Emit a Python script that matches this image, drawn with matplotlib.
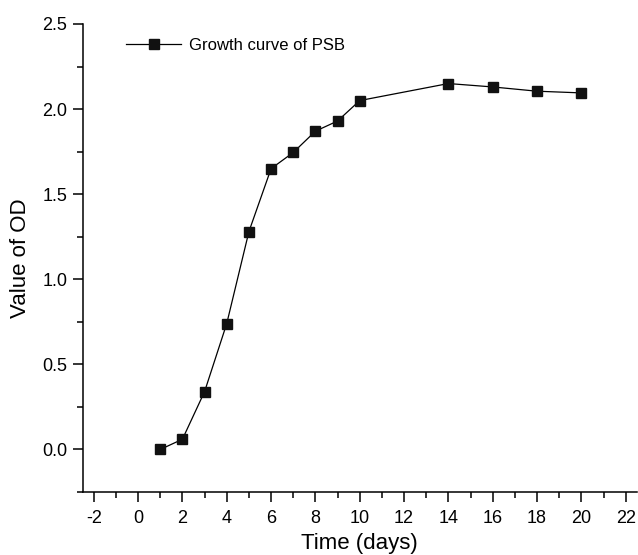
import matplotlib
matplotlib.use("Agg")
import matplotlib.pyplot as plt
from matplotlib.ticker import MultipleLocator, FuncFormatter

days = [1, 2, 3, 4, 5, 6, 7, 8, 9, 10, 14, 16, 18, 20]
od = [0.0, 0.06, 0.34, 0.74, 1.28, 1.65, 1.745, 1.87, 1.93, 2.05, 2.15, 2.13, 2.105, 2.095]

plt.rcParams['font.family'] = ['Liberation Sans', 'DejaVu Sans']

fig = plt.figure(figsize=(6.38, 5.55), dpi=100)
ax = fig.add_axes([0.1296, 0.1135, 0.8685, 0.8433])
ax.plot(days, od, color='black', lw=0.9, marker='s', markersize=7.5,
        markerfacecolor='#111111', markeredgecolor='#111111', label='Growth curve of PSB')
ax.set_xlim(-2.5, 22.5)
ax.set_ylim(-0.25, 2.5)
ax.xaxis.set_major_locator(MultipleLocator(2))
ax.xaxis.set_minor_locator(MultipleLocator(1))
ax.yaxis.set_major_locator(MultipleLocator(0.5))
ax.yaxis.set_minor_locator(MultipleLocator(0.25))
ax.xaxis.set_major_formatter(FuncFormatter(lambda v, p: f"{int(round(v))}"))
ax.yaxis.set_major_formatter(FuncFormatter(lambda v, p: f"{v:.1f}"))
for s in ['top', 'right']:
    ax.spines[s].set_visible(False)
for s in ['left', 'bottom']:
    ax.spines[s].set_linewidth(1.1)
ax.tick_params(which='major', direction='out', length=7, width=1.1, labelsize=13, pad=4)
ax.tick_params(axis='x', which='major', pad=6)
ax.tick_params(which='minor', direction='out', length=4, width=1.1)
ax.set_xlabel('Time (days)', fontsize=16, labelpad=4)
ax.set_ylabel('Value of OD', fontsize=16, labelpad=8)
ax.legend(loc='upper left', bbox_to_anchor=(0.052, 1.003), frameon=False, fontsize=12,
          handlelength=3.3, handletextpad=0.45)
fig.savefig('out.png', dpi=100)
